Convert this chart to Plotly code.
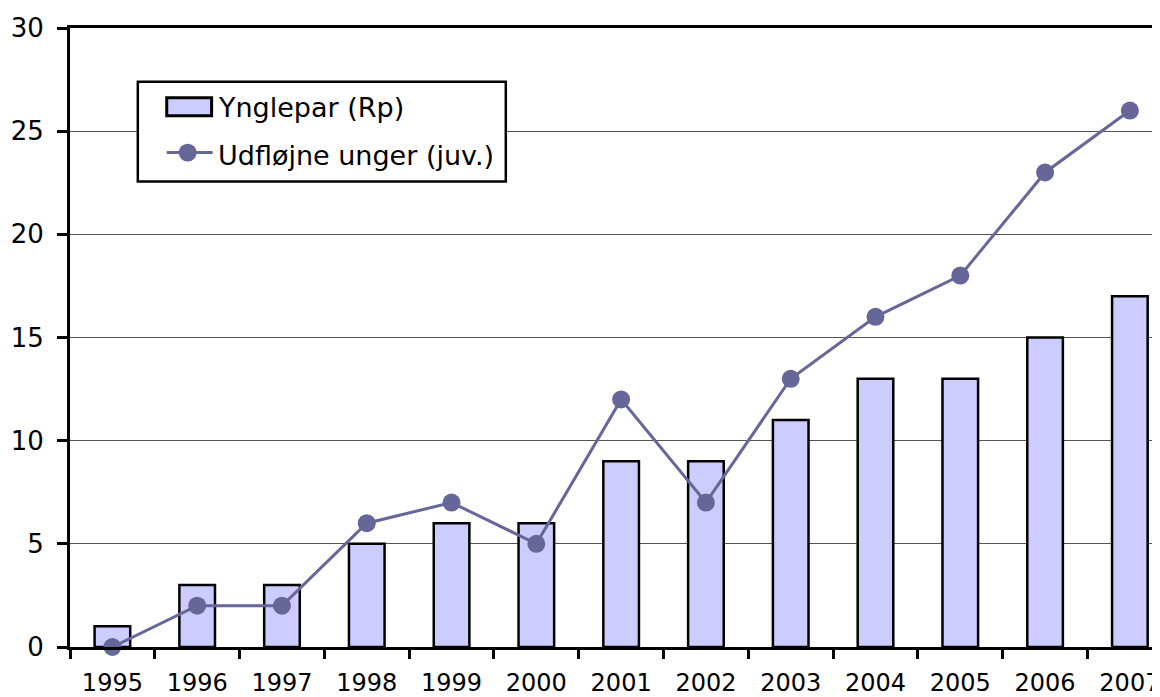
import plotly.graph_objects as go

years = ["1995", "1996", "1997", "1998", "1999", "2000", "2001", "2002", "2003", "2004", "2005", "2006", "2007"]
ynglepar = [1, 3, 3, 5, 6, 6, 9, 9, 11, 13, 13, 15, 17]
unger = [0, 2, 2, 6, 7, 5, 12, 7, 13, 16, 18, 23, 26]
bar_name = "Ynglepar (Rp)"
line_name = "Udfløjne unger (juv.)"

BAR_FILL = "#CCCCFF"
LINE_COL = "#666699"

fig = go.Figure()
fig.add_trace(go.Bar(
    x=years, y=ynglepar, name=bar_name,
    marker=dict(color=BAR_FILL, line=dict(color="black", width=2.5)),
    width=0.42, showlegend=False,
))
fig.add_trace(go.Scatter(
    x=years, y=unger, name=line_name, mode="lines+markers",
    line=dict(color=LINE_COL, width=3),
    marker=dict(color=LINE_COL, size=18),
    cliponaxis=False, showlegend=False,
))

# Custom legend (box, swatches, labels) in plot-area paper coordinates
PX0, PW = 70, 1090   # plot area left / width in screen pixels
PY0, PH = 649, 621   # plot area bottom / height in screen pixels
def px(X):
    return (X - PX0) / PW
def py(Y):
    return (PY0 - Y) / PH

shapes = [
    dict(type="rect", xref="paper", yref="paper", x0=px(138), x1=px(507), y0=py(182), y1=py(82),
         fillcolor="white", line=dict(color="black", width=2.5), layer="above"),
    dict(type="rect", xref="paper", yref="paper", x0=px(167), x1=px(212), y0=py(116), y1=py(98),
         fillcolor=BAR_FILL, line=dict(color="black", width=3), layer="above"),
    dict(type="line", xref="paper", yref="paper", x0=px(167), x1=px(213), y0=py(153), y1=py(153),
         line=dict(color=LINE_COL, width=3), layer="above"),
    dict(type="circle", xref="paper", yref="paper", x0=px(179), x1=px(197), y0=py(162), y1=py(144),
         fillcolor=LINE_COL, line=dict(color=LINE_COL, width=0), layer="above"),
]

font = "Verdana, DejaVu Sans, sans-serif"
annotations = [
    dict(text=bar_name, xref="paper", yref="paper", x=px(216), y=py(108), xanchor="left", yanchor="middle",
         showarrow=False, font=dict(size=27, family=font, color="black")),
    dict(text=line_name, xref="paper", yref="paper", x=px(216), y=py(156), xanchor="left", yanchor="middle",
         showarrow=False, font=dict(size=27, family=font, color="black")),
]

fig.update_layout(
    width=1152, height=689,
    margin=dict(l=62, r=0, t=20, b=48),
    paper_bgcolor="white", plot_bgcolor="white",
    font=dict(family=font, size=24, color="black"),
    showlegend=False,
    shapes=shapes,
    annotations=annotations,
    xaxis=dict(
        type="category", range=[-0.5, 12.32],
        tickson="boundaries", ticks="outside", ticklen=9, tickwidth=3, tickcolor="black",
        showline=True, linecolor="black", linewidth=3, mirror=True,
        showgrid=False, tickfont=dict(size=24), ticklabelstandoff=12,
    ),
    yaxis=dict(
        range=[0, 30], dtick=5, tick0=0,
        ticks="outside", ticklen=10, tickwidth=3, tickcolor="black",
        showline=True, linecolor="black", linewidth=3,
        showgrid=True, gridcolor="#555555", gridwidth=1,
        tickfont=dict(size=26), zeroline=False, ticklabelstandoff=8,
    ),
)

fig.write_html("out.html")
